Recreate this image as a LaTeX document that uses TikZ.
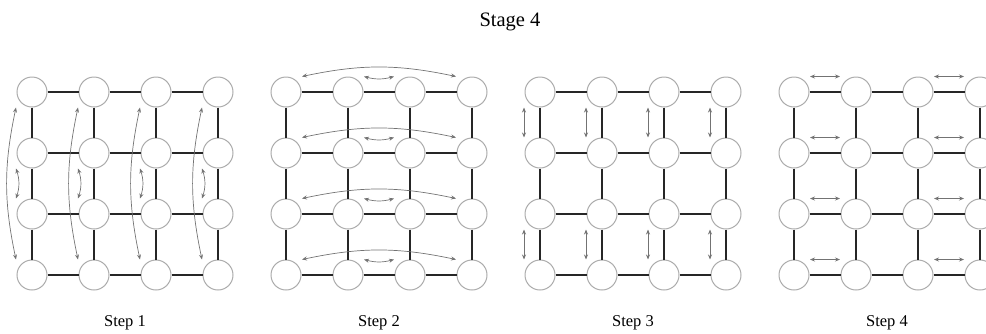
\documentclass[tikz,border=0pt]{standalone}
\usepackage{fontspec}
\setmainfont{Liberation Serif}
\usetikzlibrary{arrows.meta, positioning}

\begin{document}
\begin{tikzpicture}[
  x=1pt, y=-1pt,
  proc/.style={
    circle, draw=gray!65, line width=1pt, fill=white,
    minimum size=30pt, inner sep=0pt,
  },
  link/.style={line width=2pt, black!85},
  swap/.style={
    {Stealth[length=5pt,width=4pt]}-{Stealth[length=5pt,width=4pt]},
    black!55, line width=0.7pt,
  },
  steplabel/.style={font=\fontsize{16.5}{18}\selectfont},
  stagelabel/.style={font=\fontsize{20.5}{22}\selectfont},
]

\useasboundingbox (0,0) rectangle (986,333);

\node[stagelabel] (title) at (510,22) {Stage 4};

% ---- Processor grids ----
\foreach \p in {1,...,4}{
  \foreach \r in {1,...,4}{
    \foreach \c in {1,...,4}{
      \node[proc] (n\p-\r-\c) at ({32+254*(\p-1)+62*(\c-1)}, {92+61*(\r-1)}) {};
    }
  }
  \node[steplabel] (lbl\p) at ({125+254*(\p-1)}, 323) {Step \p};
}

% ---- Grid links ----
\foreach \p in {1,...,4}{
  \foreach \r in {1,...,4}{
    \foreach \c [count=\d from 2] in {1,2,3}{
      \draw[link] (n\p-\r-\c) -- (n\p-\r-\d);
      \draw[link] (n\p-\c-\r) -- (n\p-\d-\r);
    }
  }
}

% ---- Step 1: column exchanges (curved) ----
\foreach \c in {1,...,4}{
  \draw[swap] ([xshift=-16pt]n1-1-\c.south) to[bend right=12] ([xshift=-16pt]n1-4-\c.north);
  \draw[swap] ([xshift=-16pt]n1-2-\c.south) to[bend left=18] ([xshift=-16pt]n1-3-\c.north);
}

% ---- Step 2: row exchanges (curved) ----
\foreach \r in {1,...,4}{
  \draw[swap] ([xshift=16pt]n2-\r-1.north) to[bend left=12] ([xshift=-16pt]n2-\r-4.north);
  \draw[swap] ([xshift=16pt]n2-\r-2.north) to[bend right=15] ([xshift=-16pt]n2-\r-3.north);
}

% ---- Step 3: neighbour exchanges, vertical ----
\foreach \c in {1,...,4}{
  \draw[swap] ([xshift=-16pt]n3-1-\c.south) -- ([xshift=-16pt]n3-2-\c.north);
  \draw[swap] ([xshift=-16pt]n3-3-\c.south) -- ([xshift=-16pt]n3-4-\c.north);
}

% ---- Step 4: neighbour exchanges, horizontal ----
\foreach \r in {1,...,4}{
  \draw[swap] ([xshift=16pt]n4-\r-1.north) -- ([xshift=-16pt]n4-\r-2.north);
  \draw[swap] ([xshift=16pt]n4-\r-3.north) -- ([xshift=-16pt]n4-\r-4.north);
}

\end{tikzpicture}
\end{document}
